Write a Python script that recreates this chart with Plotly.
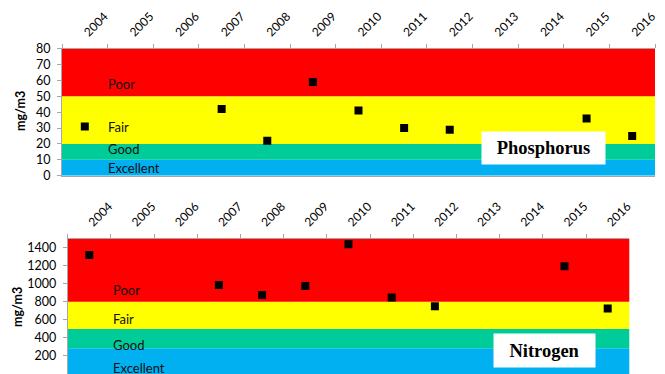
import plotly.graph_objects as go

years = ["2004", "2005", "2006", "2007", "2008", "2009", "2010",
         "2011", "2012", "2013", "2014", "2015", "2016"]
phosphorus = [31, None, None, 42, 22, 59, 41, 30, 29, None, None, 36, 25]
nitrogen = [1320, None, None, 987, 876, 976, 1438, 848, 751, None, None, 1194, 726]

band_names = ["Excellent", "Good", "Fair", "Poor"]
p_band_edges = [0, 10, 20, 50, 80]
n_band_edges = [0, 285, 500, 800, 1500]
band_colors = ["#00B0F0", "#00CC99", "#FFFF00", "#FF0000"]

p_label_y = [4.6, 16.6, 30.7, 57.8]
n_label_y = [64, 327, 607, 928]

FONT = "Lato"
AXC = "#A6A6A6"

fig = go.Figure()
fig.add_trace(go.Scatter(x=years, y=phosphorus, mode="markers", xaxis="x", yaxis="y",
                         marker=dict(symbol="square", size=8, color="#000000"),
                         showlegend=False))
fig.add_trace(go.Scatter(x=years, y=nitrogen, mode="markers", xaxis="x2", yaxis="y2",
                         marker=dict(symbol="square", size=8, color="#000000"),
                         showlegend=False))

shapes = []
for i in range(4):
    shapes.append(dict(type="rect", xref="x domain", yref="y", x0=0, x1=1,
                       y0=p_band_edges[i], y1=p_band_edges[i + 1],
                       fillcolor=band_colors[i], line=dict(width=0), layer="below"))
    shapes.append(dict(type="rect", xref="x2 domain", yref="y2", x0=0, x1=1,
                       y0=n_band_edges[i], y1=n_band_edges[i + 1],
                       fillcolor=band_colors[i], line=dict(width=0), layer="below"))

annotations = []
for i, name in enumerate(band_names):
    annotations.append(dict(xref="x", yref="y", x=0.5, y=p_label_y[i], text=name,
                            showarrow=False, xanchor="left", yanchor="middle", xshift=-2,
                            font=dict(family=FONT, size=13, color="#111111")))
    annotations.append(dict(xref="x2", yref="y2", x=0.5, y=n_label_y[i], text=name,
                            showarrow=False, xanchor="left", yanchor="middle",
                            font=dict(family=FONT, size=13, color="#111111")))

annotations.append(dict(xref="paper", yref="paper", x=543.6 / 665, y=1 - 148.3 / 374,
                        text="<b>Phosphorus</b>", showarrow=False, bgcolor="#FFFFFF",
                        width=123, height=32, borderpad=0, align="center",
                        xanchor="center", yanchor="middle",
                        font=dict(family="Liberation Serif", size=18.5, color="#000000")))
annotations.append(dict(xref="paper", yref="paper", x=544.5 / 665, y=1 - 350.3 / 374,
                        text="<b>Nitrogen</b>", showarrow=False, bgcolor="#FFFFFF",
                        width=101, height=33, borderpad=0, align="center",
                        xanchor="center", yanchor="middle",
                        font=dict(family="Liberation Serif", size=18.5, color="#000000")))
annotations.append(dict(xref="paper", yref="paper", x=20 / 665, y=1 - 111 / 374,
                        text="<b>mg/m3</b>", textangle=-90, showarrow=False,
                        xanchor="center", yanchor="middle",
                        font=dict(family=FONT, size=12.5, color="#000000")))
annotations.append(dict(xref="paper", yref="paper", x=17 / 665, y=1 - 307 / 374,
                        text="<b>mg/m3</b>", textangle=-90, showarrow=False,
                        xanchor="center", yanchor="middle",
                        font=dict(family=FONT, size=12.5, color="#000000")))

xcommon = dict(type="category", categoryorder="array", categoryarray=years,
               range=[-0.5, 12.5], side="top", showline=True, linecolor=AXC,
               linewidth=1, mirror=True, ticks="outside", ticklen=4, tickcolor=AXC,
               tickson="boundaries", tickangle=-45, showgrid=False, zeroline=False,
               automargin=False, ticklabelstandoff=4,
               tickfont=dict(family=FONT, size=12, color="#000000"))
ycommon = dict(showline=True, linecolor=AXC, linewidth=1, ticks="outside", ticklen=4,
               tickcolor=AXC, showgrid=False, zeroline=False, automargin=False,
               ticklabelstandoff=4,
               tickfont=dict(family=FONT, size=12.5, color="#000000"))
yright = dict(showline=True, linecolor=AXC, linewidth=1, ticks="outside", ticklen=4,
              tickcolor=AXC, showgrid=False, zeroline=False, showticklabels=False,
              automargin=False, side="right", range=[0, 80], dtick=10)

fig.update_layout(
    template="none",
    width=665, height=374,
    margin=dict(l=0, r=0, t=0, b=0, autoexpand=False),
    paper_bgcolor="#FFFFFF", plot_bgcolor="#FFFFFF",
    xaxis=dict(xcommon, domain=[62 / 665, 655 / 665], anchor="y"),
    yaxis=dict(ycommon, domain=[1 - 175.7 / 374, 1 - 48.7 / 374], range=[0, 80], dtick=10,
               anchor="x"),
    yaxis3=dict(yright, overlaying="y", anchor="x"),
    xaxis2=dict(xcommon, domain=[67.7 / 665, 629.3 / 665], anchor="y2"),
    yaxis2=dict(ycommon, domain=[0, 1 - 238.7 / 374], range=[0, 1500], dtick=200,
                tick0=0, anchor="x2"),
    yaxis4=dict(yright, overlaying="y2", anchor="x2"),
    shapes=shapes,
    annotations=annotations,
    showlegend=False,
)

fig.write_html("out.html", config={"displayModeBar": False},
               post_script="document.body.style.margin='0';"
                           "document.body.style.overflow='hidden';")
